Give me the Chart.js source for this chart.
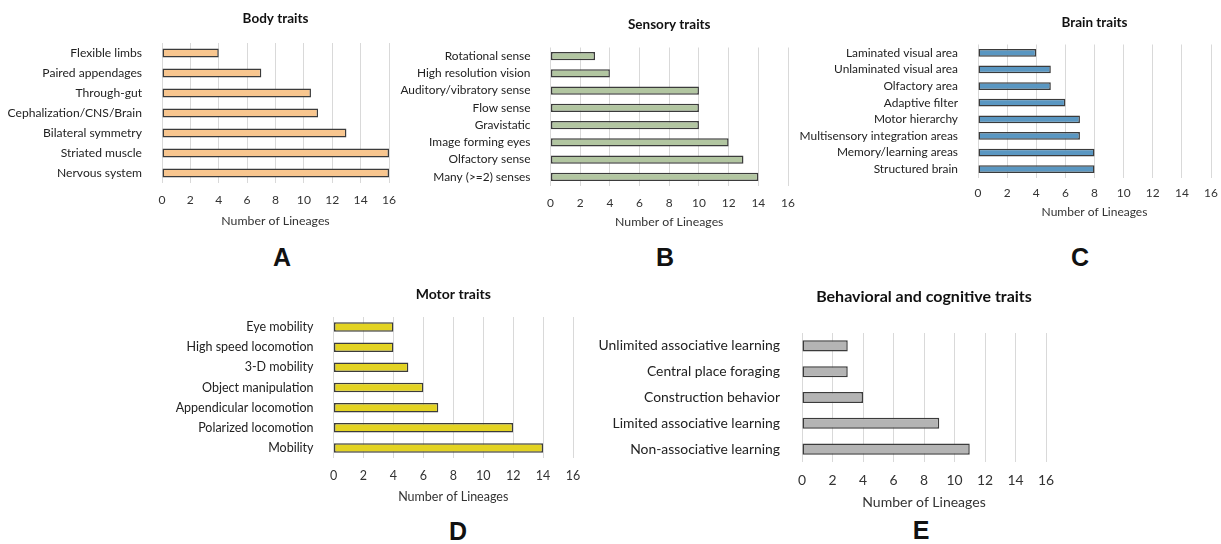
<!DOCTYPE html>
<html><head><meta charset="utf-8">
<script src="https://cdn.jsdelivr.net/npm/chart.js@4.4.1/dist/chart.umd.min.js"></script>
<style>
html,body{margin:0;padding:0;background:#fff;width:1221px;height:544px;overflow:hidden;position:relative;font-family:Lato,sans-serif}
.box{position:absolute}
.letter{position:absolute;font:bold 25px "Liberation Sans",Arial,sans-serif;color:#111;transform:translate(-50%,-50%)}
</style></head><body>
<div class="letter" style="left:282px;top:257px">A</div>
<div class="letter" style="left:665px;top:257px">B</div>
<div class="letter" style="left:1080px;top:257px">C</div>
<div class="letter" style="left:458px;top:531px">D</div>
<div class="letter" style="left:921px;top:530px">E</div>
<script>
const axisTitle = "Number of Lineages";
const xMin = 0, xMax = 16, xStep = 2;

const bodyTitle = "Body traits";
const bodyLabels = ["Flexible limbs","Paired appendages","Through-gut","Cephalization/CNS/Brain","Bilateral symmetry","Striated muscle","Nervous system"];
const bodyValues = [4,7,10.5,11,13,16,16];

const sensoryTitle = "Sensory traits";
const sensoryLabels = ["Rotational sense","High resolution vision","Auditory/vibratory sense","Flow sense","Gravistatic","Image forming eyes","Olfactory sense","Many (>=2) senses"];
const sensoryValues = [3,4,10,10,10,12,13,14];

const brainTitle = "Brain traits";
const brainLabels = ["Laminated visual area","Unlaminated visual area","Olfactory area","Adaptive filter","Motor hierarchy","Multisensory integration areas","Memory/learning areas","Structured brain"];
const brainValues = [4,5,5,6,7,7,8,8];

const motorTitle = "Motor traits";
const motorLabels = ["Eye mobility","High speed locomotion","3-D mobility","Object manipulation","Appendicular locomotion","Polarized locomotion","Mobility"];
const motorValues = [4,4,5,6,7,12,14];

const behaviorTitle = "Behavioral and cognitive traits";
const behaviorLabels = ["Unlimited associative learning","Central place foraging","Construction behavior","Limited associative learning","Non-associative learning"];
const behaviorValues = [3,3,4,9,11];

const FONT = "Lato";

function makePanel(p) {
  const lhT = p.titleSize * 1.2, lh = p.fs * 1.2, lhA = p.axSize * 1.2;
  const H = Math.round(p.axisTitleY + lhA / 2 + 4 - p.top);
  const div = document.createElement('div');
  div.className = 'box';
  div.style.left = p.left + 'px'; div.style.top = p.top + 'px';
  div.style.width = p.width + 'px'; div.style.height = H + 'px';
  const cv = document.createElement('canvas');
  cv.width = p.width; cv.height = H;
  cv.style.width = p.width + 'px'; cv.style.height = H + 'px';
  div.appendChild(cv); document.body.appendChild(div);
  new Chart(cv, {
    type: 'bar',
    data: { labels: p.labels, datasets: [{ data: p.values, backgroundColor: p.color, borderColor: '#3b3b3b', borderWidth: 1.5, borderSkipped: false, barPercentage: p.bp, categoryPercentage: 1 }] },
    options: {
      indexAxis: 'y', responsive: false, animation: false, devicePixelRatio: 1,
      layout: { padding: { left: 0, right: p.left + p.width - p.plotRight, top: 0, bottom: 0 } },
      plugins: {
        legend: { display: false }, tooltip: { enabled: false },
        title: { display: true, text: p.title, color: '#111', font: { family: FONT, size: p.titleSize, weight: 'bold', lineHeight: 1.2 },
          padding: { top: p.titleY - p.top - lhT / 2, bottom: p.plotTop - p.titleY - lhT / 2 }, align: 'start',
          fullSize: false }
      },
      scales: {
        x: { min: xMin, max: xMax, position: 'bottom',
          ticks: { stepSize: xStep, color: '#333', padding: p.tickY - p.plotBottom - lh / 2, font: { family: FONT, size: p.fs, lineHeight: 1.2 } },
          grid: { color: '#d9d9d9', lineWidth: 1, drawTicks: false },
          border: { display: false },
          title: { display: true, text: axisTitle, color: '#333', font: { family: FONT, size: p.axSize, lineHeight: 1.2 },
            padding: { top: 2, bottom: 4 } },
          afterFit: (s) => { s.height = p.top + H - p.plotBottom; s.paddingLeft = 0; s.paddingRight = 0; } },
        y: { ticks: { autoSkip: false, color: '#222', padding: p.ypad, font: { family: FONT, size: p.fs, lineHeight: 1.2 } },
          grid: { display: false }, border: { display: false },
          afterFit: (s) => { s.width = p.plotLeft - p.left; s.paddingTop = 0; s.paddingBottom = 0; } }
      }
    },
    plugins: [{ id: 'titlepos', beforeDraw(chart) {
      const t = chart.titleBlock; if (t) { t.options.align = 'center'; }
    } }]
  });
}

makePanel({ left: 0, top: 0, width: 400, title: bodyTitle, labels: bodyLabels, values: bodyValues, color: '#F8C68F',
  plotLeft: 162, plotRight: 389, plotTop: 43, plotBottom: 183, titleY: 19, tickY: 200, axisTitleY: 221,
  titleSize: 13.5, fs: 12.1, axSize: 12.3, bp: 0.46, ypad: 12 });
makePanel({ left: 390, top: 0, width: 410, title: sensoryTitle, labels: sensoryLabels, values: sensoryValues, color: '#B2C6A1',
  plotLeft: 550.5, plotRight: 788, plotTop: 47.5, plotBottom: 185.5, titleY: 25, tickY: 203, axisTitleY: 222,
  titleSize: 13.5, fs: 11.9, axSize: 12.3, bp: 0.48, ypad: 12 });
makePanel({ left: 800, top: 0, width: 421, title: brainTitle, labels: brainLabels, values: brainValues, color: '#5A97C2',
  plotLeft: 978, plotRight: 1211, plotTop: 44.5, plotBottom: 177.5, titleY: 23, tickY: 193, axisTitleY: 212,
  titleSize: 13.5, fs: 11.9, axSize: 12, bp: 0.47, ypad: 12 });
makePanel({ left: 175, top: 270, width: 410, title: motorTitle, labels: motorLabels, values: motorValues, color: '#E3D322',
  plotLeft: 333.5, plotRight: 573, plotTop: 317, plotBottom: 458, titleY: 294, tickY: 476, axisTitleY: 496,
  titleSize: 14, fs: 12.5, axSize: 12.5, bp: 0.47, ypad: 12 });
makePanel({ left: 590, top: 270, width: 480, title: behaviorTitle, labels: behaviorLabels, values: behaviorValues, color: '#B4B4B4',
  plotLeft: 802, plotRight: 1046, plotTop: 333, plotBottom: 462, titleY: 297, tickY: 481, axisTitleY: 503,
  titleSize: 16, fs: 13.9, axSize: 14, bp: 0.43, ypad: 14 });
</script>
</body></html>
